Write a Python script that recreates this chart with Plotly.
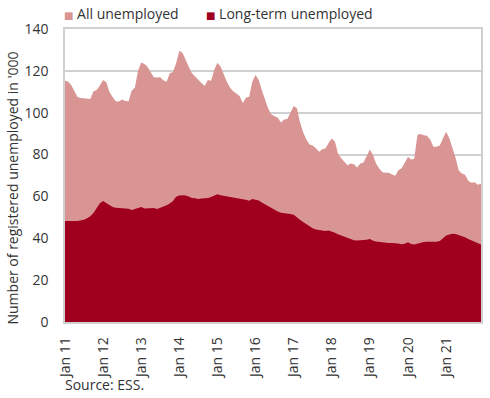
import pandas as pd
import plotly.graph_objects as go

months = pd.date_range("2011-01-01", "2021-12-01", freq="MS")

all_unemployed = [
    115.3, 114.8, 113.2, 110.0, 107.5, 107.0, 106.8, 106.5, 106.5, 110.3, 110.9, 113.0,
    115.6, 114.5, 110.0, 107.5, 105.5, 105.3, 106.3, 105.6, 105.5, 110.5, 112.0, 120.0,
    124.0, 123.3, 122.0, 119.5, 117.0, 116.8, 116.9, 115.5, 114.8, 118.8, 119.5, 123.6,
    129.6, 128.5, 125.0, 122.0, 118.8, 117.5, 115.8, 114.2, 112.8, 115.6, 115.3, 120.4,
    123.9, 122.0, 118.3, 114.8, 112.0, 110.3, 109.2, 108.0, 104.7, 107.2, 107.6, 114.8,
    118.0, 115.6, 110.8, 105.8, 102.0, 99.2, 98.5, 97.6, 95.3, 96.8, 97.0, 100.0,
    103.2, 102.1, 95.7, 90.8, 87.3, 84.8, 84.3, 83.0, 81.3, 82.6, 82.9, 85.5,
    87.7, 86.1, 80.5, 78.3, 76.5, 74.9, 75.7, 75.4, 73.8, 75.7, 76.2, 79.5,
    82.4, 79.7, 75.7, 73.3, 71.5, 71.3, 71.3, 70.5, 69.9, 72.5, 73.5, 76.0,
    78.9, 77.6, 78.0, 89.5, 89.8, 89.2, 89.0, 87.2, 83.7, 83.7, 84.3, 87.7,
    90.9, 87.7, 83.5, 78.5, 72.5, 71.0, 70.3, 67.5, 66.5, 66.8, 65.6, 66.0,
]

long_term_unemployed = [
    48.3, 48.4, 48.4, 48.3, 48.3, 48.5, 48.9, 49.6, 50.5, 52.1, 54.2, 56.8,
    57.8, 56.8, 55.5, 54.9, 54.6, 54.5, 54.3, 54.2, 54.1, 53.5, 54.0, 54.5,
    55.0, 54.2, 54.4, 54.4, 54.5, 54.0, 54.5, 55.3, 55.8, 56.6, 57.8, 59.8,
    60.5, 60.6, 60.5, 60.0, 59.3, 59.1, 58.8, 59.0, 59.0, 59.2, 59.7, 60.2,
    61.0, 60.6, 60.3, 60.1, 59.9, 59.5, 59.0, 58.8, 58.6, 58.4, 57.9, 58.8,
    58.4, 58.0, 57.1, 56.2, 55.3, 54.2, 53.5, 52.8, 52.2, 52.1, 51.9, 51.6,
    51.2, 50.2, 48.9, 47.8, 46.7, 45.6, 44.8, 44.2, 44.0, 43.8, 43.5, 43.7,
    43.3, 42.6, 41.9, 41.3, 40.5, 40.0, 39.5, 39.1, 39.0, 39.0, 39.0, 39.3,
    39.6, 38.8, 38.5, 38.3, 38.0, 37.9, 37.8, 37.8, 37.8, 37.5, 37.1, 37.4,
    38.1, 37.3, 37.0, 37.5, 37.8, 38.2, 38.3, 38.3, 38.3, 38.4, 38.7, 40.0,
    41.3, 41.8, 42.2, 42.0, 41.5, 41.0, 40.5, 39.6, 39.0, 38.5, 37.6, 37.0,
]

series_names = ["All unemployed", "Long-term unemployed"]
series_colors = ["#d99594", "#a0001e"]
y_ticks = [0, 20, 40, 60, 80, 100, 120, 140]
y_title = "Number of registered unemployed in '000"
source_text = "Source: ESS."

FONT = "Open Sans"
fig = go.Figure()
for name, vals, col in zip(series_names, [all_unemployed, long_term_unemployed], series_colors):
    fig.add_trace(go.Scatter(
        x=months, y=vals, name=name, mode="lines", fill="tozeroy",
        line=dict(width=0, color=col), fillcolor=col, showlegend=False,
        hoverinfo="skip",
    ))

# legend as text annotations
legend_x = [-0.007, 0.334]
for name, col, lx in zip(series_names, series_colors, legend_x):
    fig.add_annotation(
        xref="paper", yref="paper", x=lx, y=1.0546, xanchor="left", yanchor="middle",
        text=f'<span style="color:{col};font-size:10px;font-family:DejaVu Sans">■</span> {name}',
        showarrow=False, font=dict(family=FONT, size=14, color="#333333"),
    )

fig.add_annotation(
    xref="paper", yref="paper", x=-0.125, y=0.4556, xanchor="center", yanchor="middle",
    text=y_title, textangle=-90, showarrow=False,
    font=dict(family=FONT, size=14, color="#333333"),
)
fig.add_annotation(
    xref="paper", yref="paper", x=-0.005, y=-0.215, xanchor="left", yanchor="middle",
    text=source_text, showarrow=False, font=dict(family=FONT, size=14, color="#333333"),
)

fig.update_layout(
    width=490, height=398,
    margin=dict(l=65, r=9, t=29, b=76),
    paper_bgcolor="white", plot_bgcolor="white",
    font=dict(family=FONT, size=14, color="#333333"),
    showlegend=False,
)
fig.update_xaxes(
    range=[months[0], months[-1]], tickformat="%b %y", dtick="M12",
    tick0=months[0], tickangle=-90, showgrid=False,
    showline=True, linecolor="#d0d0d0", linewidth=1.5, mirror=True,
    ticks="", ticklabelstandoff=8, automargin=False,
)
fig.update_yaxes(
    range=[0, 140], tickvals=y_ticks, showgrid=True, gridcolor="#d0d0d0", gridwidth=1.5,
    showline=True, linecolor="#d0d0d0", linewidth=1.5, mirror=True,
    ticks="", ticklabelstandoff=12, zeroline=False, automargin=False,
)

fig.write_html(
    "out.html",
    config={"displayModeBar": False},
    post_script="document.body.style.margin='0';document.body.style.overflow='hidden';",
)
